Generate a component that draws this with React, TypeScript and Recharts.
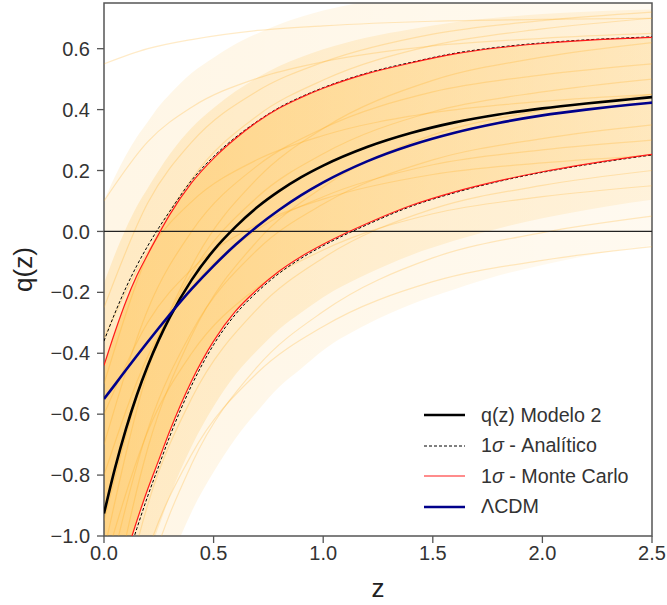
import React from 'react';
import {
  ComposedChart,
  Line,
  Area,
  XAxis,
  YAxis,
  ReferenceLine,
  ReferenceArea,
  Legend,
} from 'recharts';

// redshift grid used by the main curves
const zGrid = [0, 0.05, 0.1, 0.15, 0.2, 0.25, 0.3, 0.4, 0.5, 0.6, 0.7, 0.8, 0.9, 1.0, 1.2, 1.4, 1.6, 1.8, 2.0, 2.2, 2.4, 2.5];

const qModelo2 = [-0.926, -0.778, -0.649, -0.537, -0.44, -0.356, -0.282, -0.159, -0.062, 0.015, 0.08, 0.133, 0.178, 0.216, 0.277, 0.323, 0.358, 0.384, 0.404, 0.42, 0.434, 0.441];
const qLCDM = [-0.55, -0.503, -0.455, -0.408, -0.362, -0.317, -0.273, -0.189, -0.113, -0.044, 0.017, 0.071, 0.119, 0.161, 0.23, 0.283, 0.324, 0.356, 0.381, 0.4, 0.416, 0.423];

const sigUpperMC = [-0.44, -0.33, -0.23, -0.145, -0.075, -0.008, 0.055, 0.16, 0.24, 0.305, 0.36, 0.405, 0.44, 0.47, 0.518, 0.553, 0.583, 0.603, 0.617, 0.627, 0.634, 0.637];
const sigLowerMC = [-1.33, -1.19, -1.065, -0.95, -0.845, -0.75, -0.655, -0.49, -0.36, -0.262, -0.19, -0.13, -0.082, -0.042, 0.026, 0.085, 0.13, 0.166, 0.196, 0.221, 0.243, 0.253];

const sigUpperAn = [-0.36, -0.268, -0.185, -0.112, -0.047, 0.012, 0.066, 0.168, 0.246, 0.309, 0.362, 0.407, 0.442, 0.472, 0.52, 0.555, 0.585, 0.605, 0.619, 0.629, 0.636, 0.639];
const sigLowerAn = [-1.36, -1.22, -1.09, -0.975, -0.868, -0.77, -0.673, -0.505, -0.372, -0.272, -0.198, -0.137, -0.088, -0.047, 0.022, 0.082, 0.127, 0.164, 0.194, 0.219, 0.241, 0.251];

// rough spread of the Monte Carlo cloud (outer and middle envelopes)
const cloudUpper = [0.1, 0.18, 0.25, 0.31, 0.36, 0.41, 0.45, 0.52, 0.57, 0.615, 0.65, 0.68, 0.705, 0.725, 0.755, 0.775, 0.79, 0.8, 0.81, 0.815, 0.82, 0.82];
const cloudLower = [-1.9, -1.72, -1.56, -1.42, -1.3, -1.19, -1.09, -0.92, -0.79, -0.68, -0.59, -0.51, -0.45, -0.39, -0.305, -0.24, -0.19, -0.145, -0.11, -0.08, -0.055, -0.045];
const midUpper = [-0.17, -0.075, 0.01, 0.083, 0.143, 0.2, 0.253, 0.34, 0.405, 0.46, 0.505, 0.543, 0.573, 0.598, 0.637, 0.664, 0.687, 0.702, 0.714, 0.721, 0.727, 0.729];
const midLower = [-1.615, -1.455, -1.31, -1.185, -1.07, -0.97, -0.87, -0.705, -0.575, -0.47, -0.39, -0.32, -0.266, -0.216, -0.14, -0.078, -0.03, 0.01, 0.043, 0.07, 0.094, 0.104];

// a few individual Monte Carlo realisations
const sampleZ = [0, 0.2, 0.4, 0.7, 1.0, 1.5, 2.0, 2.5];
const mcSamples = [
  [-1.2, -0.65, -0.33, -0.06, 0.09, 0.235, 0.305, 0.35],
  [-0.7, -0.256, 0.0, 0.216, 0.339, 0.458, 0.514, 0.55],
  [-1.5, -0.896, -0.548, -0.254, -0.087, 0.074, 0.151, 0.2],
  [-0.5, -0.074, 0.172, 0.38, 0.497, 0.611, 0.665, 0.7],
  [-0.95, -0.435, -0.138, 0.113, 0.255, 0.393, 0.458, 0.5],
  [-1.8, -1.143, -0.764, -0.444, -0.263, -0.087, -0.004, 0.05],
  [-0.25, 0.094, 0.293, 0.461, 0.556, 0.648, 0.692, 0.72],
  [-1.05, -0.457, -0.115, 0.174, 0.338, 0.496, 0.572, 0.62],
  [-0.8, -0.41, -0.184, 0.006, 0.114, 0.219, 0.268, 0.3],
  [0.1, 0.295, 0.408, 0.503, 0.557, 0.609, 0.634, 0.65],
  [-1.35, -0.711, -0.342, -0.031, 0.146, 0.317, 0.398, 0.45],
  [-0.6, -0.298, -0.124, 0.023, 0.106, 0.187, 0.225, 0.25],
  [0.55, 0.6, 0.63, 0.66, 0.675, 0.69, 0.696, 0.7],
  [-1.6, -1.05, -0.732, -0.464, -0.312, -0.165, -0.095, -0.05],
  [-0.35, -0.066, 0.098, 0.236, 0.315, 0.39, 0.427, 0.45],
  [-1.1, -0.656, -0.4, -0.184, -0.061, 0.058, 0.114, 0.15],
];

const xTicks = [0, 0.5, 1.0, 1.5, 2.0, 2.5];
const yTicks = [-1.0, -0.8, -0.6, -0.4, -0.2, 0.0, 0.2, 0.4, 0.6];

const rows = zGrid.map((z, i) => ({
  z,
  modelo2: qModelo2[i],
  lcdm: qLCDM[i],
  upMC: sigUpperMC[i],
  loMC: sigLowerMC[i],
  upAn: sigUpperAn[i],
  loAn: sigLowerAn[i],
  cloud: [cloudLower[i], cloudUpper[i]],
  mid: [midLower[i], midUpper[i]],
  band: [sigLowerMC[i], sigUpperMC[i]],
}));

const sampleData = mcSamples.map((s) => sampleZ.map((z, j) => ({ z, q: s[j] })));

const fmt = (v: number) => (v < 0 ? '\u2212' : '') + Math.abs(v).toFixed(1);

const tickStyle = { fontSize: 20, fill: '#333', fontFamily: 'Liberation Sans' };

const legendItems = [
  { label: <>q(z) Modelo 2</>, color: '#000', width: 2.5, dash: undefined },
  { label: <>1<i>σ</i> - Analítico</>, color: '#000', width: 1, dash: '3 2' },
  { label: <>1<i>σ</i> - Monte Carlo</>, color: '#ff1a1a', width: 1.2, dash: undefined },
  { label: <>ΛCDM</>, color: '#00008b', width: 2.5, dash: undefined },
];

const renderLegend = () => (
  <div style={{ fontFamily: 'Liberation Sans', fontSize: 19.7, color: '#333' }}>
    {legendItems.map((it, i) => (
      <div key={i} style={{ display: 'flex', alignItems: 'center', height: 30.5 }}>
        <svg width={41} height={10} style={{ marginRight: 16 }}>
          <line x1={0} y1={5} x2={41} y2={5} stroke={it.color} strokeWidth={it.width} strokeDasharray={it.dash} />
        </svg>
        <span>{it.label}</span>
      </div>
    ))}
  </div>
);

const App = () => {
  return (
    <div style={{ position: 'absolute', left: 0, top: 0, background: '#fff', fontFamily: 'Liberation Sans' }}>
      <ComposedChart width={667} height={605} data={rows} margin={{ top: 3, right: 15, bottom: 0, left: 0 }}>
        <defs>
          <linearGradient id="cloudFill" x1="0" y1="0" x2="1" y2="0">
            <stop offset="0%" stopColor="#ffa500" stopOpacity={0.1} />
            <stop offset="100%" stopColor="#ffa500" stopOpacity={0.06} />
          </linearGradient>
          <linearGradient id="midFill" x1="0" y1="0" x2="1" y2="0">
            <stop offset="0%" stopColor="#ffa500" stopOpacity={0.15} />
            <stop offset="100%" stopColor="#ffa500" stopOpacity={0.09} />
          </linearGradient>
          <linearGradient id="bandFill" x1="0" y1="0" x2="1" y2="0">
            <stop offset="0%" stopColor="#ffa500" stopOpacity={0.32} />
            <stop offset="100%" stopColor="#ffa500" stopOpacity={0.13} />
          </linearGradient>
        </defs>
        <XAxis
          dataKey="z"
          type="number"
          domain={[0, 2.5]}
          ticks={xTicks}
          tickFormatter={fmt}
          allowDataOverflow
          height={69}
          axisLine={false}
          tickSize={7}
          tickMargin={3}
          tickLine={{ stroke: '#555', strokeWidth: 1.3 }}
          tick={tickStyle}
          label={{
            content: (p: any) => (
              <text x={p.viewBox.x + p.viewBox.width / 2} y={p.viewBox.y + 61} textAnchor="middle" fontSize={26} fill="#222" fontFamily="Liberation Sans">
                z
              </text>
            ),
          }}
        />
        <YAxis
          type="number"
          domain={[-1, 0.75]}
          ticks={yTicks}
          tickFormatter={fmt}
          allowDataOverflow
          width={104}
          axisLine={false}
          tickSize={7}
          tickMargin={7}
          tickLine={{ stroke: '#555', strokeWidth: 1.3 }}
          tick={tickStyle}
          label={{
            content: (p: any) => {
              const cx = p.viewBox.x + 32;
              const cy = p.viewBox.y + p.viewBox.height / 2;
              return (
                <text x={cx} y={cy} transform={`rotate(-90, ${cx}, ${cy})`} textAnchor="middle" fontSize={26} fill="#222" fontFamily="Liberation Sans">
                  q(z)
                </text>
              );
            },
          }}
        />
        <Area dataKey="cloud" type="monotone" stroke="none" fill="url(#cloudFill)" fillOpacity={1} isAnimationActive={false} legendType="none" />
        <Area dataKey="mid" type="monotone" stroke="none" fill="url(#midFill)" fillOpacity={1} isAnimationActive={false} legendType="none" />
        <Area dataKey="band" type="monotone" stroke="none" fill="url(#bandFill)" fillOpacity={1} isAnimationActive={false} legendType="none" />
        {sampleData.map((d, i) => (
          <Line
            key={i}
            data={d}
            dataKey="q"
            type="monotone"
            stroke="#ffa500"
            strokeOpacity={0.22}
            strokeWidth={1.2}
            dot={false}
            isAnimationActive={false}
            legendType="none"
          />
        ))}
        <ReferenceLine y={0} stroke="#222" strokeWidth={1.3} />
        <Line dataKey="modelo2" type="monotone" stroke="#000" strokeWidth={2.6} dot={false} isAnimationActive={false} />
        <Line dataKey="upAn" type="monotone" stroke="#000" strokeWidth={1} strokeDasharray="3 2" dot={false} isAnimationActive={false} />
        <Line dataKey="loAn" type="monotone" stroke="#000" strokeWidth={1} strokeDasharray="3 2" dot={false} isAnimationActive={false} />
        <Line dataKey="upMC" type="monotone" stroke="#ff1a1a" strokeWidth={1.2} dot={false} isAnimationActive={false} />
        <Line dataKey="loMC" type="monotone" stroke="#ff1a1a" strokeWidth={1.2} dot={false} isAnimationActive={false} />
        <Line dataKey="lcdm" type="monotone" stroke="#00008b" strokeWidth={2.6} dot={false} isAnimationActive={false} />
        <ReferenceArea x1={0} x2={2.5} y1={-1} y2={0.75} fill="none" stroke="#555" strokeWidth={1.5} />
        <Legend
          layout="vertical"
          align="center"
          verticalAlign="middle"
          wrapperStyle={{ left: 424, top: 400, width: 240 }}
          content={renderLegend}
        />
      </ComposedChart>
    </div>
  );
};

export default App;
